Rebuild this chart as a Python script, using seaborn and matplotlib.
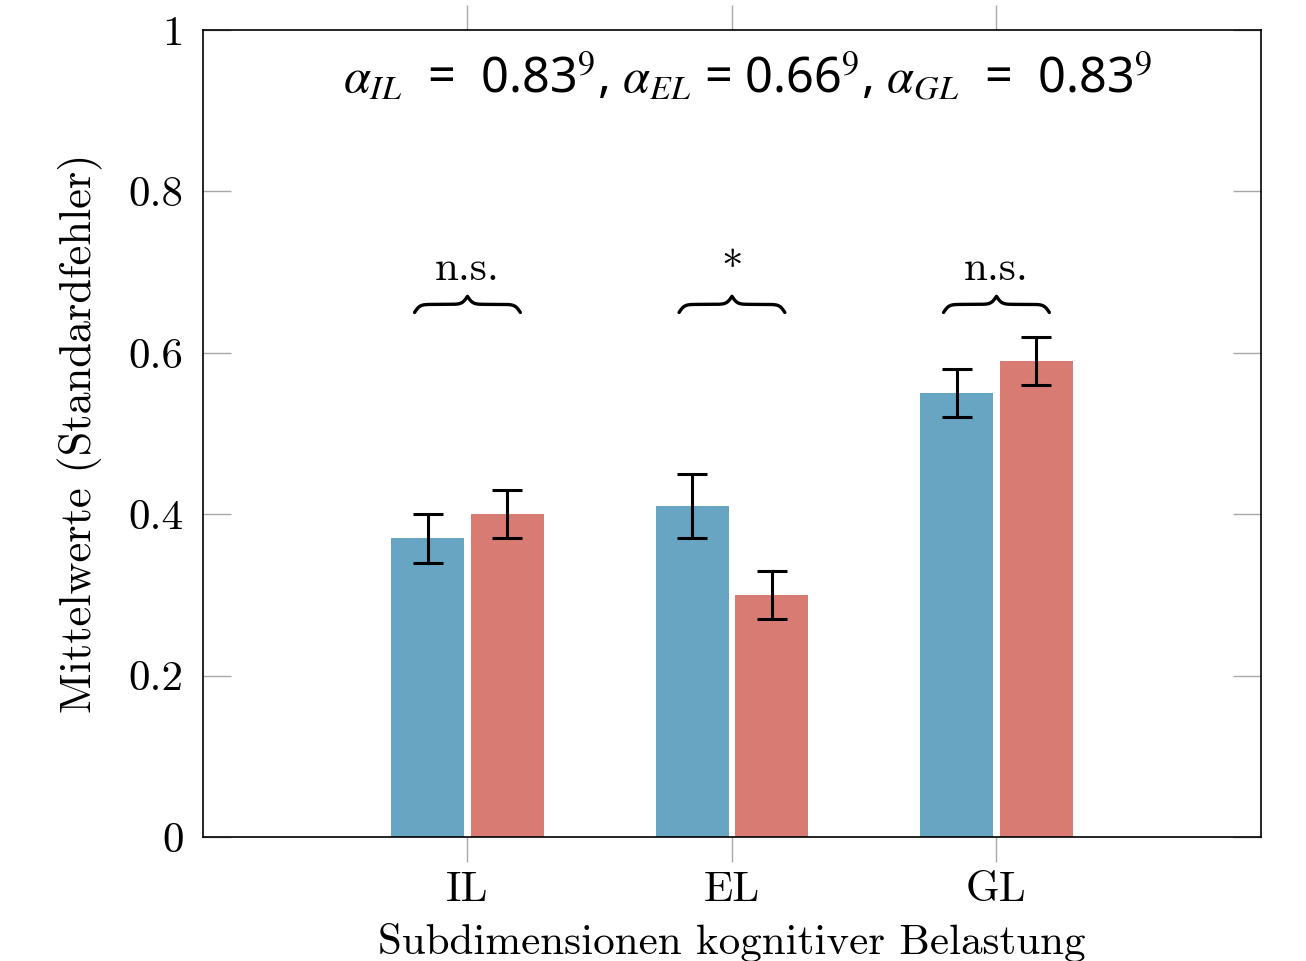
import numpy as np
import pandas as pd
import matplotlib.pyplot as plt
import seaborn as sns

# --- Daten ---
CATEGORIES = ["IL", "EL", "GL"]
GROUPS = ["Gruppe 1", "Gruppe 2"]
MEANS_G1 = [0.37, 0.41, 0.55]
SE_G1 = [0.03, 0.04, 0.03]
MEANS_G2 = [0.40, 0.30, 0.59]
SE_G2 = [0.03, 0.03, 0.03]
SIG_LABELS = ["n.s.", "*", "n.s."]
Y_TICKS = [0, 0.2, 0.4, 0.6, 0.8, 1]
Y_TICKLABELS = ["0", "0.2", "0.4", "0.6", "0.8", "1"]

PALETTE = {"Gruppe 1": "#67a5c3", "Gruppe 2": "#d87c73"}


def draw_brace(ax, xmin, xmax, y0, height, beta=100.0, lw=2.4):
    # geschweifte Klammer aus zwei logistischen Kurven
    n = 401
    x = np.linspace(xmin, xmax, n)
    xh = x[: n // 2 + 1]
    yh = 1 / (1 + np.exp(-beta * (xh - xh[0]))) + 1 / (1 + np.exp(-beta * (xh - xh[-1])))
    y = np.concatenate((yh, yh[-2::-1])) - 0.5
    ax.plot(x, y0 + y * height, color="black", lw=lw, solid_capstyle="round")


def main():
    df = pd.DataFrame({
        "Dimension": CATEGORIES * 2,
        "Gruppe": [GROUPS[0]] * 3 + [GROUPS[1]] * 3,
        "Mittelwert": MEANS_G1 + MEANS_G2,
    })
    errors = {GROUPS[0]: SE_G1, GROUPS[1]: SE_G2}

    sns.set_style("white")
    plt.rcParams["font.family"] = ["cmr10"]
    plt.rcParams["axes.unicode_minus"] = False
    plt.rcParams["axes.formatter.use_mathtext"] = True
    plt.rcParams["text.color"] = "black"
    plt.rcParams["axes.labelcolor"] = "black"
    plt.rcParams["xtick.labelcolor"] = "black"
    plt.rcParams["ytick.labelcolor"] = "black"

    fig = plt.figure(figsize=(13.06, 9.61), dpi=100)
    ax = fig.add_axes([0.1554, 0.129, 0.8101, 0.8398])

    sns.barplot(
        data=df, x="Dimension", y="Mittelwert", hue="Gruppe",
        order=CATEGORIES, hue_order=GROUPS, palette=PALETTE,
        width=0.604, gap=0.086, errorbar=None, legend=False,
        saturation=1, linewidth=0, ax=ax,
    )

    # Fehlerbalken auf die Balkenmitten setzen
    for cont, grp in zip(ax.containers, GROUPS):
        xs = [b.get_x() + b.get_width() / 2 for b in cont]
        ys = [b.get_height() for b in cont]
        ax.errorbar(xs, ys, yerr=errors[grp], fmt="none", ecolor="black",
                    elinewidth=2.2, capsize=11, capthick=2.2, zorder=5)

    # Klammern und Signifikanzen
    for i, lab in enumerate(SIG_LABELS):
        draw_brace(ax, i - 0.2, i + 0.2, 0.65, 0.02)
        ax.text(i, 0.69, lab, ha="center", va="baseline", fontsize=31)

    ax.text(0.515, 0.94,
            r"$\alpha_{IL}$  =  0.83$^9$, $\alpha_{EL}$ = 0.66$^9$, $\alpha_{GL}$  =  0.83$^9$",
            transform=ax.transAxes, ha="center", va="center", fontsize=35,
            family=["Noto Sans", "DejaVu Sans"], math_fontfamily="stix")

    ax.set_xlim(-1, 3)
    ax.set_ylim(0, 1)
    ax.set_yticks(Y_TICKS)
    ax.set_yticklabels(Y_TICKLABELS)
    ax.set_xlabel("Subdimensionen kognitiver Belastung", fontsize=31, labelpad=10)
    ax.set_ylabel("Mittelwerte (Standardfehler)", fontsize=32, labelpad=18)

    ax.tick_params(axis="x", direction="out", top=True, bottom=True, length=18,
                   width=1, color="#a8a8a8", labelsize=31, pad=7)
    ax.tick_params(axis="y", direction="in", left=True, right=True, length=20,
                   width=1, color="#a8a8a8", labelsize=31, pad=14)
    for sp in ax.spines.values():
        sp.set_visible(True)
        sp.set_color("black")
        sp.set_linewidth(1.2)

    fig.savefig("out.png", dpi=100)
    plt.close(fig)


if __name__ == "__main__":
    main()
